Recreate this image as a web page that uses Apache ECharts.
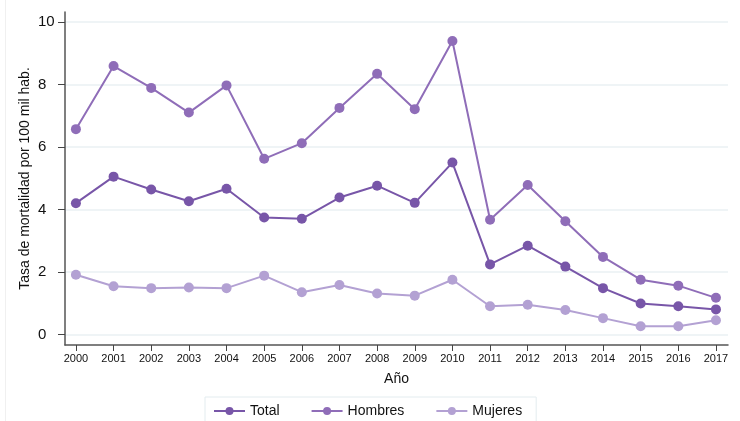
<!DOCTYPE html>
<html>
<head>
<meta charset="utf-8">
<script src="https://cdn.jsdelivr.net/npm/echarts@6/dist/echarts.min.js"></script>
<style>html,body{margin:0;padding:0;background:#fff}#c{width:740px;height:421px}</style>
</head>
<body>
<div id="c"></div>
<script>
const years = [2000,2001,2002,2003,2004,2005,2006,2007,2008,2009,2010,2011,2012,2013,2014,2015,2016,2017];
const total   = [4.20,5.05,4.64,4.26,4.66,3.74,3.70,4.38,4.76,4.21,5.50,2.24,2.84,2.17,1.48,0.99,0.90,0.80];
const hombres = [6.57,8.59,7.89,7.10,7.97,5.62,6.12,7.25,8.34,7.21,9.39,3.67,4.78,3.62,2.48,1.75,1.56,1.17];
const mujeres = [1.91,1.54,1.48,1.50,1.48,1.88,1.35,1.58,1.31,1.24,1.75,0.90,0.95,0.78,0.52,0.26,0.26,0.45];
const yTicks = [0,2,4,6,8,10];
const seriesNames = ['Total','Hombres','Mujeres'];
const colors = ['#7856a8','#8f6db8','#b3a1d3'];

const chart = echarts.init(document.getElementById('c'));
const mk = (name, vals, color) => ({
  name: name, type: 'line',
  data: years.map((y, i) => [y, vals[i]]),
  symbol: 'circle', symbolSize: 10,
  lineStyle: {color: color, width: 2},
  itemStyle: {color: color},
  z: 3
});
chart.setOption({
  animation: false,
  textStyle: {fontFamily: 'Liberation Sans, Arial, sans-serif'},
  graphic: [{type: 'line', shape: {x1: 5.5, y1: 0, x2: 5.5, y2: 421}, style: {stroke: '#f0f0f0', lineWidth: 1}}],
  grid: {left: 65, right: 12, top: 12, bottom: 76},
  xAxis: {
    type: 'value', min: 1999.71, max: 2017.32,
    name: 'Año', nameLocation: 'middle', nameGap: 27, nameMoveOverlap: false,
    nameTextStyle: {fontSize: 14, color: '#111'},
    axisLine: {show: true, onZero: false, lineStyle: {color: '#555', width: 1.5}},
    axisTick: {show: true, length: 6, customValues: years, lineStyle: {color: '#444'}},
    axisLabel: {customValues: years, fontSize: 11, color: '#111', margin: 8, formatter: v => String(Math.round(v))},
    splitLine: {show: false}
  },
  yAxis: {
    type: 'value', min: -0.34, max: 10.32,
    name: 'Tasa de mortalidad por 100 mil hab.', nameLocation: 'middle', nameGap: 33, nameMoveOverlap: false,
    nameTextStyle: {fontSize: 14, color: '#111'},
    axisLine: {show: true, onZero: false, lineStyle: {color: '#555', width: 1.5}},
    axisTick: {show: true, length: 7, customValues: yTicks, lineStyle: {color: '#444'}},
    axisLabel: {customValues: yTicks, fontSize: 15, color: '#111', margin: 27, align: 'left'},
    splitLine: {show: true, lineStyle: {color: '#eaf0f3', width: 1.5}}
  },
  legend: {
    data: seriesNames, left: 205, top: 397,
    itemWidth: 31, itemHeight: 10, itemGap: 31,
    padding: [7, 14, 12, 8],
    borderColor: '#e3ecef', borderWidth: 1,
    textStyle: {fontSize: 14, color: '#111'}
  },
  series: [mk(seriesNames[0], total, colors[0]), mk(seriesNames[1], hombres, colors[1]), mk(seriesNames[2], mujeres, colors[2])]
});
</script>
</body>
</html>
